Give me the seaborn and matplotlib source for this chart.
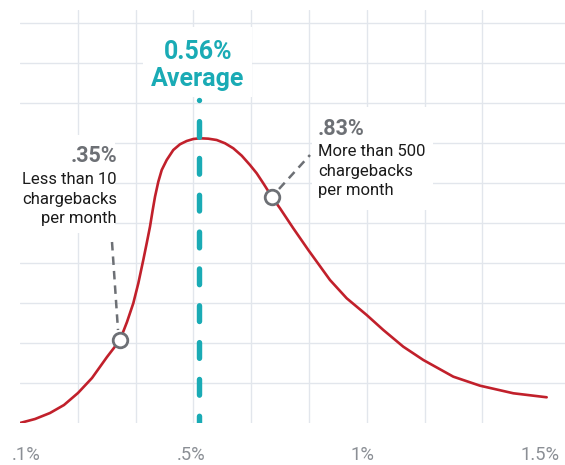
import matplotlib
matplotlib.use("Agg")
import matplotlib.pyplot as plt
import seaborn as sns
import pandas as pd
from matplotlib.patches import Rectangle

# ---- data (x in axis grid units, y in grid units) ----
curve_x = [0.0, 0.26, 0.519, 0.761, 1.003, 1.246, 1.505, 1.730, 1.851, 1.960, 2.047,
           2.133, 2.192, 2.249, 2.296, 2.336, 2.393, 2.452, 2.538, 2.652, 2.768, 2.884,
           2.998, 3.114, 3.258, 3.403, 3.547, 3.690, 3.836, 3.979, 4.095, 4.209, 4.360,
           4.498, 4.728, 4.988, 5.363, 5.652, 5.998, 6.286, 6.631, 6.978, 7.497, 7.958,
           8.535, 9.112]
curve_y = [0.0, 0.1, 0.25, 0.45, 0.75, 1.125, 1.65, 2.075, 2.525, 2.993, 3.493,
           4.075, 4.493, 4.908, 5.325, 5.658, 6.033, 6.325, 6.575, 6.825, 6.968, 7.05,
           7.1, 7.118, 7.108, 7.075, 6.993, 6.868, 6.683, 6.45, 6.243, 5.993, 5.65,
           5.368, 4.868, 4.325, 3.575, 3.118, 2.7, 2.325, 1.908, 1.575, 1.158, 0.933,
           0.743, 0.643]
tick_pos = [0.1, 2.96, 5.92, 9.0]
tick_labels = [".1%", ".5%", "1%", "1.5%"]
avg_x = 3.097
avg_label = ["0.56%", "Average"]
marker_x = [1.73, 4.36]
marker_y = [2.075, 5.65]
low_pct, low_text = ".35%", "Less than 10\nchargebacks\nper month"
high_pct, high_text = ".83%", "More than 500\nchargebacks\nper month"

RED = "#c1202b"
TEAL = "#1aabb5"
GRAY = "#6d7075"
GRID = "#e2e6ec"
TICK = "#8b8f95"

sns.set_theme(style="white")
plt.rcParams["font.family"] = ["Roboto", "DejaVu Sans"]

W, H = 565, 465
fig = plt.figure(figsize=(W / 100, H / 100), dpi=100)
# axes: left px 20, right px 565, bottom px 423, top px 10
ax = fig.add_axes([20 / W, (H - 423) / H, (W - 20) / W, (423 - 10) / H])
XMAX = (W - 20) / 57.8
YMAX = (423 - 10) / 40.0
ax.set_xlim(0, XMAX)
ax.set_ylim(0, YMAX)

def px(x, y):
    return (x - 20) / 57.8, (423 - y) / 40.0

# grid
ax.set_xticks(range(1, 10), minor=True)
ax.set_yticks(range(1, 11), minor=True)
ax.grid(which="minor", color=GRID, lw=1.0)
ax.grid(which="major", visible=False)
ax.set_yticks([])
ax.set_xticks(tick_pos)
ax.set_xticklabels(tick_labels)
ax.tick_params(axis="x", which="both", length=0, pad=16.5, labelsize=13.2, labelcolor=TICK)
ax.tick_params(axis="y", which="both", length=0)
for s in ax.spines.values():
    s.set_visible(False)
ax.set_axisbelow(True)

# white boxes behind labels
def wbox(x0, y0, x1, y1):
    a = px(x0, y1)
    b = px(x1, y0)
    ax.add_patch(Rectangle(a, b[0] - a[0], b[1] - a[1], facecolor="white",
                           edgecolor="none", zorder=1))

wbox(143, 27, 252, 97)
wbox(0, 135, 115, 233)
wbox(312, 107, 433, 210)

# curve
df = pd.DataFrame({"x": curve_x, "y": curve_y})
sns.lineplot(data=df, x="x", y="y", ax=ax, color=RED, lw=1.9, sort=False,
             zorder=3, solid_capstyle="round", solid_joinstyle="round")
ax.set_xlabel("")
ax.set_ylabel("")

# average dashed line
ytop = px(0, 100)[1]
ax.plot([avg_x, avg_x], [-0.05, ytop], color=TEAL, lw=3.9, zorder=4,
        linestyle=(1.2, (2.9, 3.9)), dash_capstyle="round", solid_capstyle="round")

# leaders
l1a, l1b = px(112, 242), px(118, 330)
ax.plot([l1a[0], l1b[0]], [l1a[1], l1b[1]], color=GRAY, lw=1.8, zorder=4,
        linestyle=(0, (3.4, 2.4)))
l2a, l2b = px(279, 189), px(310, 155)
ax.plot([l2a[0], l2b[0]], [l2a[1], l2b[1]], color=GRAY, lw=1.8, zorder=4,
        linestyle=(0, (3.4, 2.4)))

# markers
ax.plot(marker_x, marker_y, linestyle="none", marker="o", ms=10.5, mew=2.0,
        mfc="white", mec=GRAY, zorder=5)

# texts
ax.text(*px(198, 52), avg_label[0], color=TEAL, fontsize=18, fontweight="bold",
        ha="center", va="center", zorder=6)
ax.text(*px(198, 79), avg_label[1], color=TEAL, fontsize=18, fontweight="bold",
        ha="center", va="center", zorder=6)

ax.text(*px(117, 156), low_pct, color=GRAY, fontsize=15.5, fontweight="bold",
        ha="right", va="center", zorder=6)
ax.text(*px(117, 199), low_text, color="#1b1b1b", fontsize=12, ha="right",
        va="center", multialignment="right", linespacing=1.4, zorder=6)

ax.text(*px(318, 129), high_pct, color=GRAY, fontsize=15.5, fontweight="bold",
        ha="left", va="center", zorder=6)
ax.text(*px(318, 171), high_text, color="#1b1b1b", fontsize=12, ha="left",
        va="center", multialignment="left", linespacing=1.4, zorder=6)

fig.savefig("out.png", dpi=100, facecolor="white")
